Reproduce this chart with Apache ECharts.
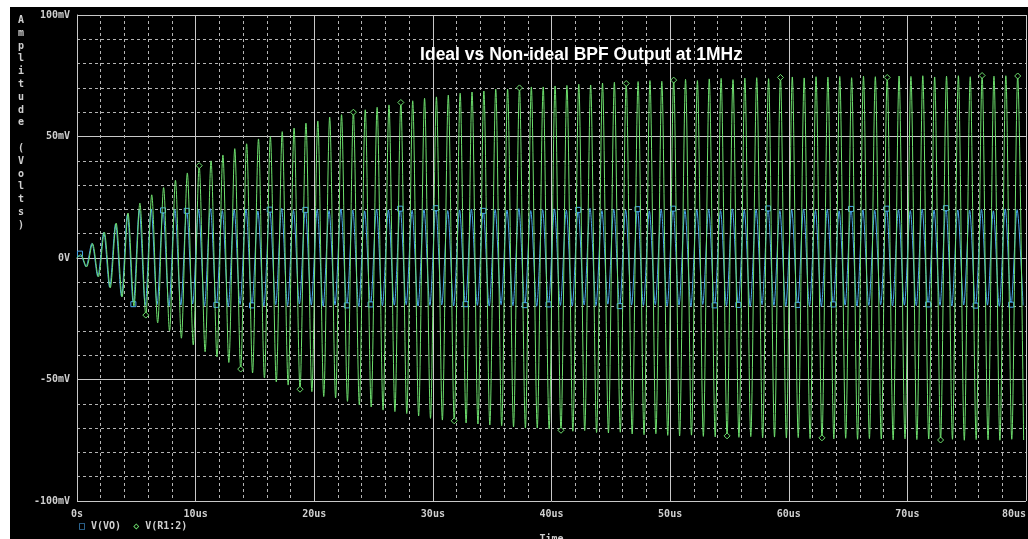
<!DOCTYPE html>
<html>
<head>
<meta charset="utf-8">
<script src="https://cdn.jsdelivr.net/npm/echarts@6/dist/echarts.min.js"></script>
<style>
  html, body { margin: 0; padding: 0; background: #fff; }
  #bpf { width: 1028px; height: 539px; }
</style>
</head>
<body>
<div id="bpf"></div>
<script>
// 每个周期 1us，峰值和谷值（mV）从图上读出
const timeTicks = [0, 10, 20, 30, 40, 50, 60, 70, 80];
const voltTicks = [-100, -50, 0, 50, 100];

// V(R1:2) 非理想输出：峰值在 n+0.3us，谷值在 n+0.8us
const greenPeaks = [
  1.5, 6, 10.7, 14.4, 18.5, 22.6, 26, 29, 32, 35,
  38, 40, 42.4, 45, 47, 49, 50, 52, 53.5, 55.5,
  56.4, 58, 59, 60, 61, 62, 63, 64, 64.7, 65.7,
  66.3, 67, 67.8, 68.3, 68.7, 69.5, 69.5, 70, 70.4, 70.4,
  70.8, 71, 71.5, 71.2, 72, 72.3, 71.8, 72.6, 73, 72.7,
  73.2, 73.5, 73, 73.7, 73.9, 73.4, 74, 74.2, 73.8, 74.3,
  74.5, 74.1, 74.6, 74.4, 74.7, 74.2, 74.8, 74.6, 74.3, 74.9,
  74.7, 75, 74.5, 74.8, 75, 74.6, 75.1, 74.8, 75, 74.9
];
const greenTroughs = [
  -3.7, -7.8, -12.3, -16, -19.8, -23.5, -26.7, -30, -33, -35.8,
  -38.6, -40.7, -43, -45.7, -47.3, -49.4, -51, -52.3, -54, -55,
  -57, -57.6, -59, -60.5, -61.3, -62.6, -63.2, -64, -65, -66,
  -66.7, -67, -67.9, -68.3, -68.7, -69, -69.5, -70, -70, -70.4,
  -70.9, -71.3, -71, -71.8, -72, -71.7, -72.4, -72.7, -72.3, -73,
  -73.2, -72.9, -73.4, -73.6, -73.2, -73.8, -73.5, -74, -73.7, -74.1,
  -73.9, -74.3, -74, -74.4, -74.2, -74.6, -74.3, -74.5, -74.8, -74.4,
  -74.7, -74.5, -74.9, -74.6, -75, -74.7, -74.8, -75, -74.6, -74.9
];

// V(VO) 理想输出：峰值在 n+0.25us，谷值在 n+0.75us
const bluePeaks = [
  1.8, 6, 10.5, 14, 18, 19.8, 20.2, 19.6, 20, 19.4,
  19.9, 20.3, 19.5, 19.8, 20.1, 19.3, 19.9, 20.4, 19.6, 19.8,
  20, 19.5, 20.2, 19.7, 19.4, 20.1, 19.8, 20.3, 19.6, 19.9,
  20.5, 19.5, 19.8, 20.1, 19.4, 20, 19.7, 20.3, 19.5, 19.9,
  20.2, 19.6, 19.8, 20.4, 19.5, 20, 19.7, 20.1, 19.4, 19.9,
  20.3, 19.6, 19.8, 20, 19.5, 20.2, 19.7, 19.9, 20.4, 19.5,
  19.8, 20.1, 19.6, 20, 19.4, 20.2, 19.8, 19.6, 20.3, 19.9,
  19.5, 20.1, 19.7, 20.5, 19.8, 19.6, 20, 19.4, 20.2, 19.9
];
const blueTroughs = [
  -3.5, -7.5, -12, -15.8, -19, -19.5, -19.2, -19.8, -19.4, -18.9,
  -19.6, -19.3, -19.9, -19.1, -19.5, -19.7, -19.2, -19.6, -18.9, -19.4,
  -19.8, -19.3, -19.5, -19.9, -19.1, -19.6, -19.4, -19.2, -19.8, -19.5,
  -19.3, -19.7, -19, -19.5, -19.8, -19.2, -19.6, -19.4, -19.9, -19.1,
  -19.5, -19.7, -19.3, -19.6, -19, -19.8, -19.4, -19.5, -19.2, -19.7,
  -19.4, -19.9, -19.1, -19.5, -19.6, -19.3, -19.8, -19.2, -19.5, -19.7,
  -19.3, -19.6, -19.9, -19.1, -19.4, -19.8, -19.5, -19.2, -19.7, -19.4,
  -19.6, -19.1, -19.5, -19.8, -19.3, -19.6, -19.4, -19.9, -19.2, -19.5
];

const seriesNames = ["V(VO)", "V(R1:2)"];

// 折线上带标记的点（点的序号）
const blueMarks = [1, 10, 15, 19, 24, 30, 33, 39, 46, 50, 55, 61, 66, 69, 76, 80, 85, 92,
  95, 101, 108, 112, 117, 122, 128, 131, 137, 144, 147, 152, 158, 163];
const greenMarks = [12, 21, 28, 38, 47, 55, 64, 75, 82, 93, 101, 110, 119, 126, 137, 146, 153, 159];

// 把峰值/谷值排成折线点
function buildWave(peaks, troughs, peakAt, troughAt, mark, marks) {
  const pts = [{ value: [0, 0] }];
  for (let n = 0; n < peaks.length; n++) {
    pts.push({ value: [n + peakAt, peaks[n]] });
    pts.push({ value: [n + troughAt, troughs[n]] });
  }
  pts.forEach(function (p, i) {
    p.symbol = marks.indexOf(i) >= 0 ? mark : "none";
  });
  return pts;
}

const blueData = buildWave(bluePeaks, blueTroughs, 0.25, 0.75, "rect", blueMarks);
const greenData = buildWave(greenPeaks, greenTroughs, 0.3, 0.8, "diamond", greenMarks);

const labelFont = {
  color: "#cfcfcf",
  fontFamily: "DejaVu Sans Mono",
  fontWeight: "bold",
  fontSize: 10
};

const chart = echarts.init(document.getElementById("bpf"));
const option = {
  animation: false,
  backgroundColor: "#000",
  grid: { left: 77, top: 15, right: 2, bottom: 38, containLabel: false, outerBoundsMode: "none" },
  xAxis: {
    type: "value",
    min: timeTicks[0],
    max: timeTicks[timeTicks.length - 1],
    interval: timeTicks[1] - timeTicks[0],
    name: "Time",
    nameLocation: "middle",
    nameGap: 33,
    nameTextStyle: labelFont,
    axisLine: { lineStyle: { color: "#c8c8c8", width: 1 } },
    axisTick: { show: false },
    axisLabel: Object.assign({
      margin: 8,
      alignMaxLabel: "right",
      formatter: function (v) { return v === 0 ? "0s" : v + "us"; }
    }, labelFont),
    splitLine: { show: true, lineStyle: { color: "#c8c8c8", width: 1 } },
    minorTick: { show: false, splitNumber: 5 },
    minorSplitLine: { show: true, lineStyle: { color: "#b4b4b4", width: 1, type: [3, 3] } }
  },
  yAxis: {
    type: "value",
    min: voltTicks[0],
    max: voltTicks[voltTicks.length - 1],
    interval: voltTicks[1] - voltTicks[0],
    axisLine: { show: true, lineStyle: { color: "#c8c8c8", width: 1 } },
    axisTick: { show: false },
    axisLabel: Object.assign({
      margin: 7,
      formatter: function (v) { return v === 0 ? "0V" : v + "mV"; }
    }, labelFont),
    splitLine: { show: true, lineStyle: { color: "#c8c8c8", width: 1 } },
    minorTick: { show: false, splitNumber: 5 },
    minorSplitLine: { show: true, lineStyle: { color: "#b4b4b4", width: 1, type: [3, 3] } }
  },
  series: [
    {
      name: seriesNames[0],
      type: "line",
      data: blueData,
      smooth: 0.3,
      symbolSize: 5,
      lineStyle: { color: "#4aa8f0", width: 1 },
      itemStyle: { color: "#000", borderColor: "#4aa8f0", borderWidth: 1 },
      z: 2
    },
    {
      name: seriesNames[1],
      type: "line",
      data: greenData,
      smooth: 0.3,
      symbolSize: 6,
      lineStyle: { color: "#6ee06e", width: 1 },
      itemStyle: { color: "#000", borderColor: "#6ee06e", borderWidth: 1 },
      z: 3
    }
  ],
  graphic: [
    // 上边和左边的白边
    { type: "rect", left: 0, top: 0, shape: { width: 1028, height: 7 }, style: { fill: "#fff" }, z: 100 },
    { type: "rect", left: 0, top: 0, shape: { width: 10, height: 539 }, style: { fill: "#fff" }, z: 100 },
    // 标题
    {
      type: "text", x: 581, y: 55, z: 50,
      style: {
        text: "Ideal vs Non-ideal BPF Output at 1MHz",
        fill: "#fff",
        font: "bold 17.5px 'Liberation Sans', Arial, sans-serif",
        textAlign: "center",
        textVerticalAlign: "middle"
      }
    },
    // 纵向的 y 轴标题
    {
      type: "text", x: 21, y: 14, z: 50,
      style: {
        text: "A\nm\np\nl\ni\nt\nu\nd\ne\n \n(\nV\no\nl\nt\ns\n)",
        fill: "#cfcfcf",
        font: "bold 10px 'DejaVu Sans Mono', monospace",
        lineHeight: 12.8,
        textAlign: "center",
        textVerticalAlign: "top"
      }
    },
    // 图例
    {
      type: "text", x: 79, y: 526, z: 50,
      style: {
        text: "{sq|□} " + seriesNames[0] + "  {dm|◇} " + seriesNames[1],
        fill: "#cfcfcf",
        font: "bold 10px 'DejaVu Sans Mono', monospace",
        textVerticalAlign: "middle",
        rich: {
          sq: { fill: "#4aa8f0", font: "bold 10px 'DejaVu Sans Mono', monospace" },
          dm: { fill: "#6ee06e", font: "bold 10px 'DejaVu Sans Mono', monospace" }
        }
      }
    }
  ]
};
chart.setOption(option);
</script>
</body>
</html>
